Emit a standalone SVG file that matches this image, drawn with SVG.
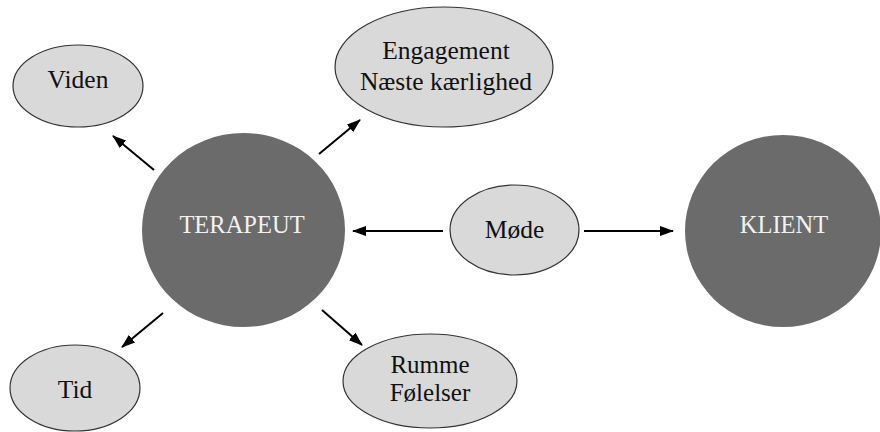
<svg xmlns="http://www.w3.org/2000/svg" width="880" height="432" viewBox="0 0 880 432">
  <style>
    .big { fill: #6b6b6b; }
    .small { fill: #d9d9d9; stroke: #333333; stroke-width: 1.2; }
    .lbl { font-family: "Liberation Serif", "DejaVu Serif", serif; font-size: 25.5px; fill: #111111; text-anchor: middle; }
    .lbl-w { font-family: "Liberation Serif", "DejaVu Serif", serif; font-size: 24.5px; fill: #f2f2f2; text-anchor: middle; }
    .edge { stroke: #000000; stroke-width: 2; fill: none; marker-end: url(#head); }
  </style>
  <defs>
    <marker id="head" viewBox="0 0 14 10" refX="13" refY="5" markerWidth="14" markerHeight="10" markerUnits="userSpaceOnUse" orient="auto">
      <path d="M0,0 L14,5 L0,10 Z" fill="#000000"/>
    </marker>
  </defs>
  <rect width="880" height="432" fill="#ffffff"/>

  <g id="connectors">
    <line class="edge" x1="154" y1="170" x2="113" y2="136"/>
    <line class="edge" x1="319" y1="154" x2="360" y2="120"/>
    <line class="edge" x1="443" y1="231" x2="353" y2="231"/>
    <line class="edge" x1="584" y1="231" x2="673" y2="231"/>
    <line class="edge" x1="163" y1="313" x2="122" y2="347"/>
    <line class="edge" x1="322" y1="310" x2="362" y2="345"/>
  </g>

  <g id="terapeut">
    <ellipse class="big" cx="243.5" cy="230" rx="101.5" ry="97"/>
    <text class="lbl-w" x="242" y="233">TERAPEUT</text>
  </g>
  <g id="klient">
    <ellipse class="big" cx="783" cy="231" rx="98" ry="96"/>
    <text class="lbl-w" x="784" y="233">KLIENT</text>
  </g>
  <g id="viden">
    <ellipse class="small" cx="78" cy="86" rx="65" ry="41"/>
    <text class="lbl" x="78" y="88">Viden</text>
  </g>
  <g id="engagement">
    <ellipse class="small" cx="444" cy="67" rx="109" ry="60"/>
    <text class="lbl" x="446" y="59">Engagement</text>
    <text class="lbl" x="446" y="90">Næste kærlighed</text>
  </g>
  <g id="moede">
    <ellipse class="small" cx="514.5" cy="230" rx="64.5" ry="45"/>
    <text class="lbl" x="514.5" y="238">Møde</text>
  </g>
  <g id="tid">
    <ellipse class="small" cx="75" cy="388" rx="65" ry="43"/>
    <text class="lbl" x="75" y="398">Tid</text>
  </g>
  <g id="rumme">
    <ellipse class="small" cx="430" cy="381" rx="87" ry="47"/>
    <text class="lbl" x="430" y="373" style="font-size:25px">Rumme</text>
    <text class="lbl" x="430" y="401" style="font-size:25px">Følelser</text>
  </g>
</svg>
